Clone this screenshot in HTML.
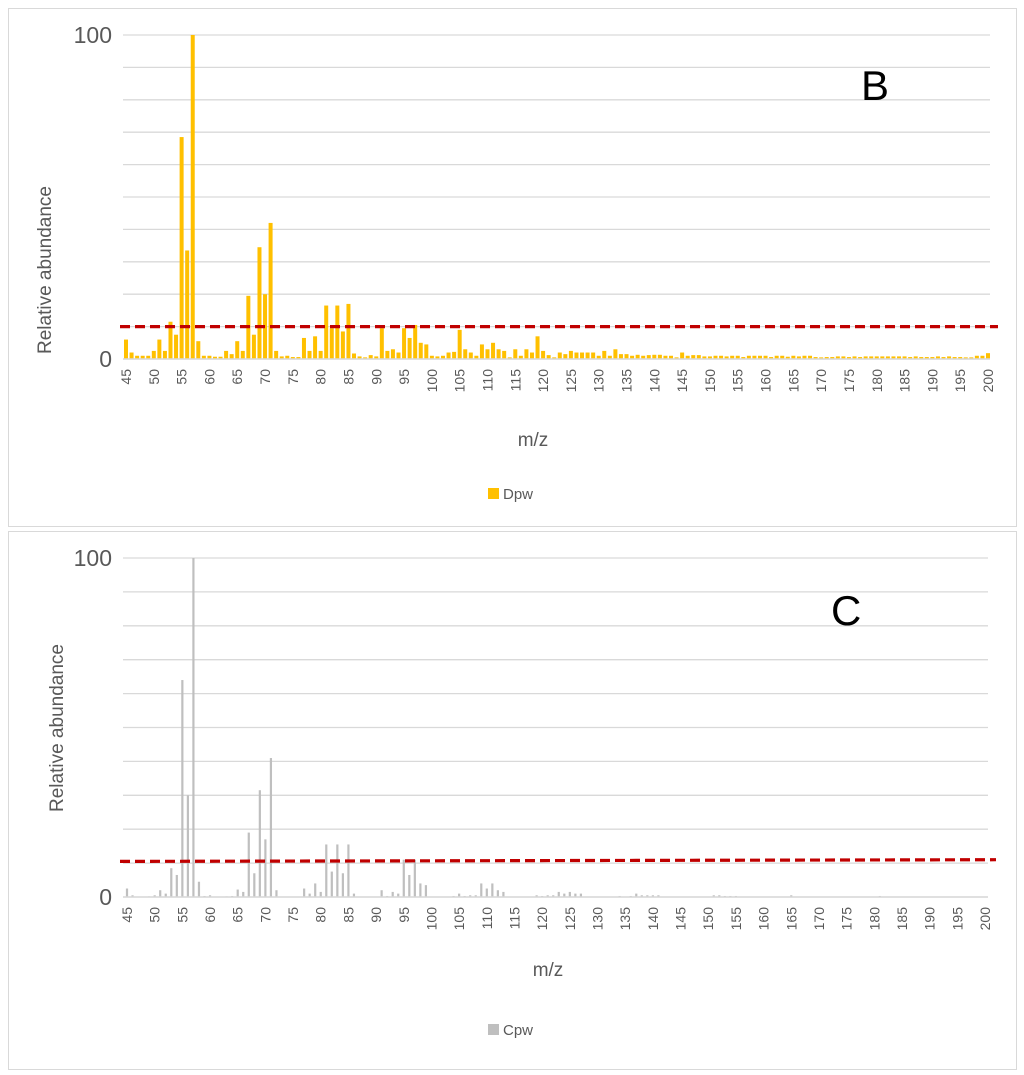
<!DOCTYPE html>
<html><head><meta charset="utf-8">
<style>
body{margin:0;background:#fff;}
svg{display:block;font-family:"Liberation Sans",sans-serif;}
</style></head>
<body>
<svg id="svg" width="1024" height="1075">
<rect x="8.5" y="8.5" width="1008" height="518" fill="#fff" stroke="#d9d9d9"/>
<rect x="8.5" y="531.5" width="1008" height="538" fill="#fff" stroke="#d9d9d9"/>
<g id="gB"></g>
<g id="gC"></g>
</svg>
<script>
const mz = [];
for (let m = 45; m <= 200; m++) mz.push(m);
const dpw = [6,2,1,1,1,2.5,6,2.5,11.5,7.5,
68.5,33.5,100,5.5,1,1,0.7,0.7,2.5,1.5,
5.5,2.5,19.5,7.5,34.5,20,42,2.5,0.8,1,
0.6,0.6,6.5,2.5,7,2.5,16.5,9.5,16.5,8.5,
17,1.7,0.8,0.5,1.2,0.8,9.5,2.5,3,2,
9.5,6.5,10.5,5,4.5,1,0.8,1,2,2.2,
9,3,2,1,4.5,3,5,3,2.5,0.5,
3,1,3,2,7,2.5,1.2,0.5,2,1.5,
2.5,2,2,2,2,1,2.5,1,3,1.5,
1.5,1,1.3,1,1.2,1.3,1.3,1,1,0.5,
2,1,1.2,1.2,0.8,0.8,1,1,0.8,1,
1,0.6,1,1,1,1,0.6,1,1,0.7,
1,0.8,1,1,0.6,0.5,0.6,0.6,0.8,0.8,
0.6,0.8,0.6,0.8,0.8,0.8,0.8,0.8,0.8,0.8,
0.8,0.6,0.8,0.6,0.6,0.6,0.8,0.6,0.8,0.6,
0.6,0.5,0.5,1,1,1.8];
const cpw = [2.5,0.5,0,0,0.2,0.5,2,1,8.5,6.5,
64,30,100,4.5,0.3,0.5,0,0,0.2,0.3,
2.2,1.5,19,7,31.5,17,41,2,0,0,
0,0,2.5,1,4,1.5,15.5,7.5,15.5,7,
15.5,1,0,0,0,0,2,0.3,1.5,1,
11,6.5,11,4,3.5,0,0,0,0,0.3,
1,0.3,0.5,0.5,4,2.5,4,2,1.5,0,
0,0,0,0,0.5,0.3,0.5,0.5,1.5,1,
1.5,1,1,0,0,0,0,0,0,0.3,
0,0.3,1,0.5,0.5,0.5,0.5,0,0,0,
0,0,0,0,0,0,0.5,0.5,0.3,0.3,
0.3,0,0,0,0,0,0,0,0,0,
0.5,0,0,0,0,0,0,0,0,0,
0,0,0,0,0,0,0.3,0,0,0,
0,0,0,0,0,0,0,0,0,0,
0,0,0,0,0,0];
const thresholdB = [10, 10];
const thresholdC = [10.5, 11];
const yTicks = ["0","100"];

const NS = "http://www.w3.org/2000/svg";
function mk(parent, tag, attrs, text) {
  const e = document.createElementNS(NS, tag);
  for (const k in attrs) e.setAttribute(k, attrs[k]);
  if (text !== undefined) e.textContent = text;
  parent.appendChild(e);
  return e;
}

function chart(g, cfg) {
  const {x0, x1, c0, c1, y0, y100, vals, color, barW, label, thr, letter, letterX, letterY, titleX, ytX, ytY, xtY, legY, tX, tY} = cfg;
  const n = mz.length;
  const xs = i => c0 + i * (c1 - c0) / (n - 1);
  const ys = v => y0 - v * (y0 - y100) / 100;
  for (let t = 0; t <= 100; t += 10) {
    const l = mk(g, "line", {x1: x0, x2: x1, y1: ys(t), y2: ys(t), stroke: "#d9d9d9", "stroke-width": 1.3});
    
    
  }
  vals.forEach((v, i) => {
    if (v <= 0) return;
    const r = mk(g, "rect", {x: xs(i) - barW / 2, y: ys(v), width: barW, height: y0 - ys(v), fill: color});
    
    
  });
  const ax = mk(g, "line", {x1: x0, x2: x1, y1: y0, y2: y0, stroke: "#d9d9d9", "stroke-width": 1.5});
  
  
  const th = mk(g, "line", {x1: x0 - 3, x2: x1 + 8, y1: ys(thr[0]), y2: ys(thr[1]), stroke: "#c00000", "stroke-width": 3.2, "stroke-dasharray": "10 5"});
  
  
  [0, 100].forEach((t, k) => {
    const tx = mk(g, "text", {x: x0 - 11, y: ys(t) + 8, "text-anchor": "end", "font-size": 23, fill: "#595959"}, yTicks[k]);
    
    
  });
  mz.forEach((m, i) => {
    if (m % 5 !== 0) return;
    const x = xs(i) + 5;
    const tx = mk(g, "text", {x: x, y: xtY, "text-anchor": "end", "font-size": 14, fill: "#595959", transform: `rotate(-90 ${x} ${xtY})`}, String(m));
    
    
  });
  const yt = mk(g, "text", {x: ytX, y: ytY, "text-anchor": "middle", "font-size": 19, fill: "#595959", transform: `rotate(-90 ${ytX} ${ytY})`}, "Relative abundance");
  
  
  const xt = mk(g, "text", {x: titleX, y: tY, "text-anchor": "middle", "font-size": 19, fill: "#595959"}, "m/z");
  
  
  const lg = mk(g, "g", {});
  
  
  mk(lg, "rect", {x: 488, y: legY - 11, width: 11, height: 11, fill: color});
  mk(lg, "text", {x: 503, y: legY, "font-size": 15, fill: "#595959"}, label);
  const L = mk(g, "text", {x: letterX, y: letterY, "font-size": 42, fill: "#000"}, letter);
  
  
}

chart(document.getElementById("gB"), {x0: 123, x1: 990, c0: 126, c1: 988, y0: 359, y100: 35, vals: dpw, color: "#ffc000", barW: 4, label: "Dpw", thr: thresholdB, letter: "B", letterX: 861, letterY: 100, titleX: 533, ytX: 51, ytY: 270, xtY: 369, legY: 499, tY: 446});
chart(document.getElementById("gC"), {x0: 123, x1: 988, c0: 127, c1: 985, y0: 897, y100: 558, vals: cpw, color: "#bfbfbf", barW: 2.2, label: "Cpw", thr: thresholdC, letter: "C", letterX: 831, letterY: 625, titleX: 548, ytX: 63, ytY: 728, xtY: 907, legY: 1035, tY: 976});
</script>
</body></html>
